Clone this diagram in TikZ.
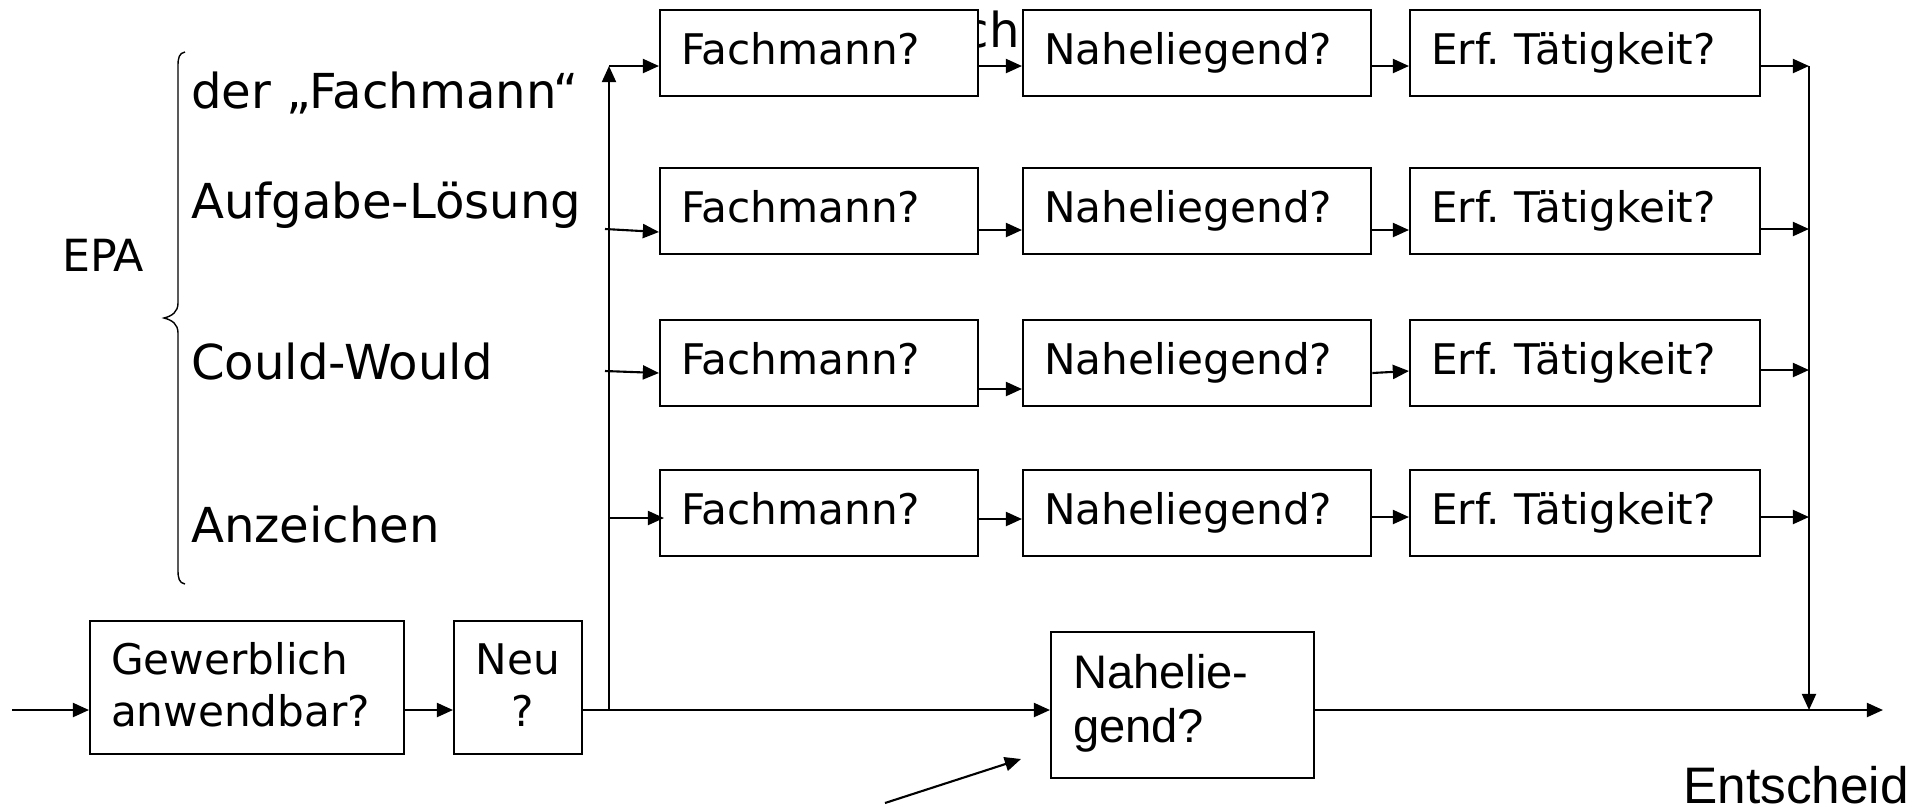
\documentclass[tikz,border=0pt]{standalone}
\usepackage{fontspec}
\setmainfont{DejaVu Sans}
\newfontfamily\arialfont{Liberation Sans}
\usetikzlibrary{arrows.meta}
\frenchspacing
\begin{document}
\begin{tikzpicture}[x=0.01cm, y=-0.01cm,
  line width=0.6pt,
  arr/.style={-{Triangle[length=4.6pt,width=4pt]}},
  qbox/.style={draw, fill=white, anchor=north west, inner xsep=0.21cm,
    inner ysep=0pt, text width=#1, text height=0.54cm, text depth=0.32cm,
    font=\fontsize{12}{14.8}\selectfont},
  tallbox/.style={draw, fill=white, anchor=north west, inner xsep=0.21cm,
    inner ysep=0pt, text width=#1, text height=0.53cm, text depth=0.80cm,
    align=left, font=\fontsize{12}{14.8}\selectfont},
  listtext/.style={anchor=base west, inner sep=0pt,
    font=\fontsize{13.7}{16}\selectfont},
]
\useasboundingbox (0,0) rectangle (1932,811);

% left-hand list with brace
\node[anchor=base west, inner sep=0pt, font=\fontsize{12.6}{15}\selectfont] (epa) at (61,271) {EPA};
\draw[line width=0.4pt] (185,52) .. controls (179,53) and (178,58) .. (178,66)
  -- (178,303) .. controls (178,312) and (172,316) .. (164,318)
  .. controls (172,320) and (178,324) .. (178,333)
  -- (178,570) .. controls (178,578) and (179,583) .. (185,584);
\node[listtext] (l1) at (190,108) {der „Fachmann“};
\node[listtext] (l2) at (190,218) {Aufgabe-Lösung};
\node[listtext] (l3) at (190,379) {Could-Would};
\node[listtext] (l4) at (190,542) {Anzeichen};

% text fragment partly covered by the first row
\node[anchor=base east, inner sep=0pt, font=\fontsize{13.7}{16}\selectfont] (frag) at (1021,47) {ch};

% four rows of checks
\node[qbox=2.76cm] (f1) at (659,9)   {Fachmann?};
\node[qbox=3.06cm] (n1) at (1022,9)  {Naheliegend?};
\node[qbox=3.08cm] (e1) at (1409,9)  {Erf. Tätigkeit?};
\node[qbox=2.76cm] (f2) at (659,167) {Fachmann?};
\node[qbox=3.06cm] (n2) at (1022,167){Naheliegend?};
\node[qbox=3.08cm] (e2) at (1409,167){Erf. Tätigkeit?};
\node[qbox=2.76cm] (f3) at (659,319) {Fachmann?};
\node[qbox=3.06cm] (n3) at (1022,319){Naheliegend?};
\node[qbox=3.08cm] (e3) at (1409,319){Erf. Tätigkeit?};
\node[qbox=2.76cm] (f4) at (659,469) {Fachmann?};
\node[qbox=3.06cm] (n4) at (1022,469){Naheliegend?};
\node[qbox=3.08cm] (e4) at (1409,469){Erf. Tätigkeit?};

% bottom chain
\node[tallbox=2.72cm] (gew) at (89,620) {Gewerblich\\anwendbar?};
\node[draw, fill=white, anchor=north west, inner sep=0pt, text width=1.28cm,
  text height=0.53cm, text depth=0.80cm, align=center,
  font=\fontsize{12}{14.8}\selectfont] (neu) at (453,620) {Neu\\\hspace*{0.1cm}?};
\node[draw, fill=white, anchor=north west, inner xsep=0.22cm, inner ysep=0pt,
  text width=2.19cm, text height=0.56cm, text depth=0.90cm, align=left,
  font=\arialfont\fontsize{13.4}{15.6}\selectfont] (nah) at (1050,631) {Nahelie-\\gend?};
\node[anchor=base east, inner sep=0pt, font=\arialfont\fontsize{14.6}{16}\selectfont] (ent) at (1910,803) {Entscheid};

% junction points
\coordinate (start) at (12,710);
\coordinate (jl) at (609,710);
\coordinate (top) at (609,66);
\coordinate (jr) at (1809,710);
\coordinate (rtop) at (1809,66);
\coordinate (endp) at (1883,710);
\coordinate (side) at (885,803);
\coordinate (sidetip) at (1021,759);

% main line
\draw[arr] (start) -- (gew.west |- start);
\draw[arr] (gew.east |- start) -- (neu.west |- start);
\draw[arr] (neu.east |- start) -- (nah.west |- start);
\draw[arr] (nah.east |- start) -- (endp);
\draw[arr] (jl) -- (top);
\draw[arr] (rtop) -- (jr);
\draw[arr] (side) -- (sidetip);

% row 1
\draw[arr] (top) -- (f1.west |- top);
\draw[arr] (f1.east |- 0,66) -- (n1.west |- 0,66);
\draw[arr] (n1.east |- 0,66) -- (e1.west |- 0,66);
\draw[arr] (e1.east |- 0,66) -- (rtop);
% row 2
\draw[arr] (605,229) -- (f2.west |- 0,232);
\draw[arr] (f2.east |- 0,230) -- (n2.west |- 0,230);
\draw[arr] (n2.east |- 0,230) -- (e2.west |- 0,230);
\draw[arr] (e2.east |- 0,229) -- (1809,229);
% row 3
\draw[arr] (605,371) -- (f3.west |- 0,373);
\draw[arr] (f3.east |- 0,389) -- (n3.west |- 0,389);
\draw[arr] (n3.east |- 0,373) -- (e3.west |- 0,371);
\draw[arr] (e3.east |- 0,370) -- (1809,370);
% row 4
\draw[arr] (609,518) -- ([xshift=0.05cm]f4.west |- 0,518);
\draw[arr] (f4.east |- 0,519) -- (n4.west |- 0,519);
\draw[arr] (n4.east |- 0,517) -- (e4.west |- 0,517);
\draw[arr] (e4.east |- 0,517) -- (1809,517);
\end{tikzpicture}
\end{document}
